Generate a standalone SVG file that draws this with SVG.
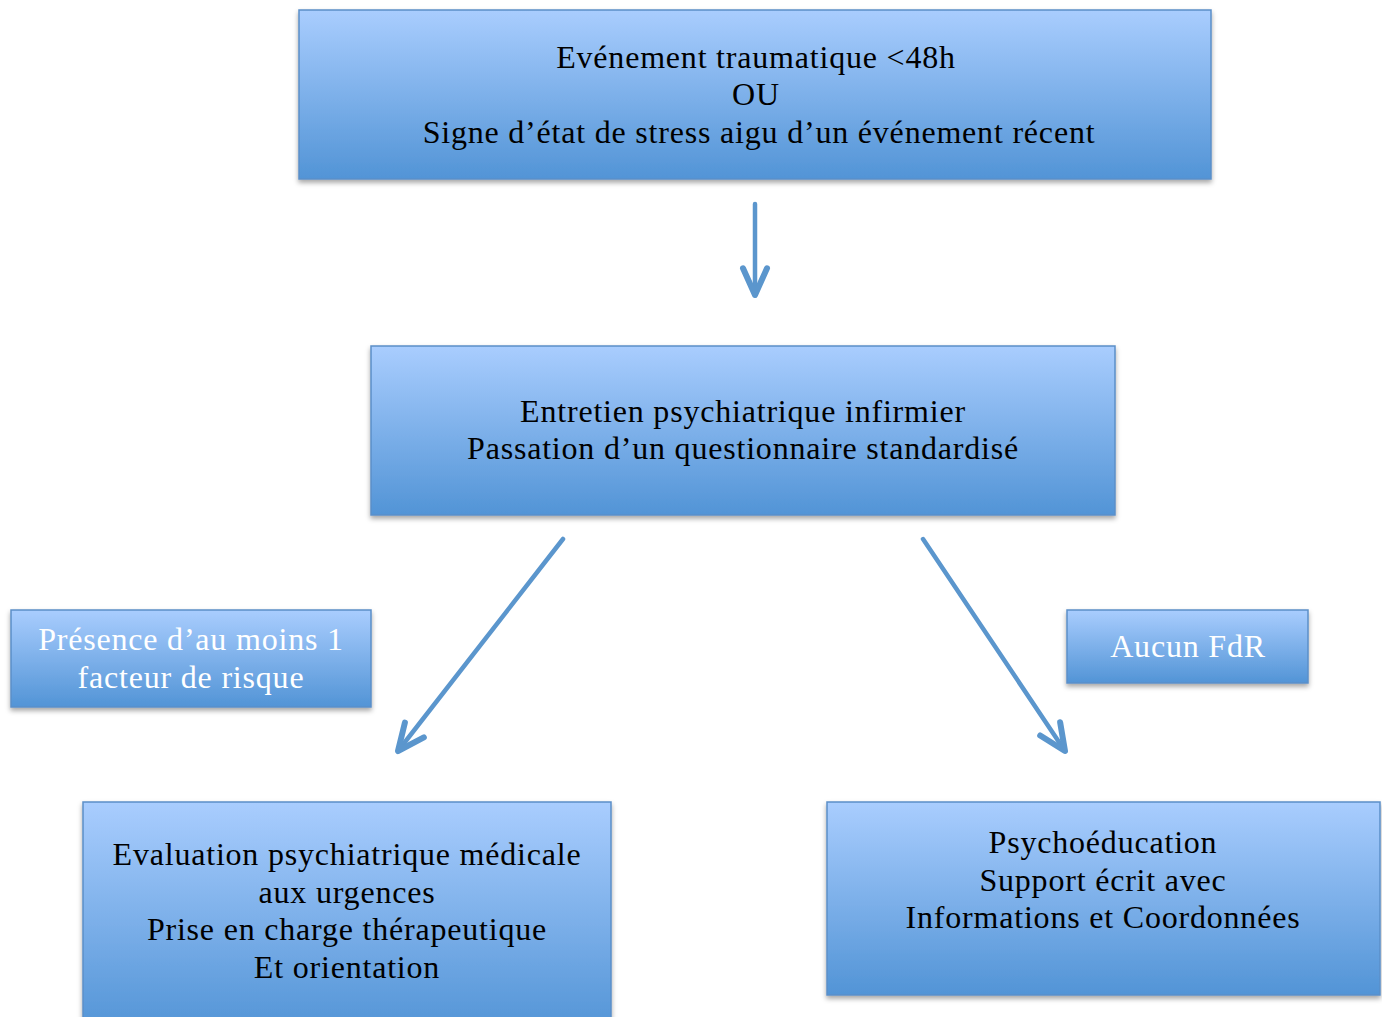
<svg xmlns="http://www.w3.org/2000/svg" width="1382" height="1017" viewBox="0 0 1382 1017">
<defs>
<linearGradient id="g" x1="0" y1="0" x2="0" y2="1">
<stop offset="0" stop-color="#a9cdfe"/>
<stop offset="1" stop-color="#5294d6"/>
</linearGradient>
<filter id="sh" x="-5%" y="-5%" width="110%" height="120%">
<feDropShadow dx="0" dy="3" stdDeviation="2.5" flood-color="#000" flood-opacity="0.35"/>
</filter>
<marker id="ah" markerUnits="userSpaceOnUse" markerWidth="40" markerHeight="40" viewBox="-25 -15 30 30" refX="0" refY="0" orient="auto">
<path d="M-20,-9 L0,0 L-20,9" fill="none" stroke="#5b96cd" stroke-width="4.5" stroke-linecap="round" stroke-linejoin="round"/>
</marker>
</defs>
<style>
.box{fill:url(#g);stroke:#5b8fc8;stroke-width:1.5;filter:url(#sh)}
.t{font-family:"Liberation Serif",serif;font-size:32px;letter-spacing:0.8px;text-anchor:middle;fill:#000}
.w{fill:#fff}
.c{fill:none;stroke:#5b96cd;stroke-width:4.5;stroke-linecap:round;marker-end:url(#ah)}
</style>
<rect width="1382" height="1017" fill="#fff"/>
<g id="connectors">
<line class="c" x1="755" y1="204" x2="755" y2="295"/>
<line class="c" x1="563" y1="539" x2="398" y2="751"/>
<line class="c" x1="923" y1="539" x2="1065" y2="751"/>
</g>
<g id="n1">
<rect class="box" x="299" y="10" width="912" height="169"/>
<text class="t" x="756" y="68">Evénement traumatique &lt;48h</text>
<text class="t" x="756" y="105">OU</text>
<text class="t" x="759" y="143">Signe d’état de stress aigu d’un événement récent</text>
</g>
<g id="n2">
<rect class="box" x="371" y="346" width="744" height="169"/>
<text class="t" x="743" y="422">Entretien psychiatrique infirmier</text>
<text class="t" x="743" y="459">Passation d’un questionnaire standardisé</text>
</g>
<g id="n3">
<rect class="box" x="11" y="610" width="360" height="97"/>
<text class="t w" x="191" y="650">Présence d’au moins 1</text>
<text class="t w" x="191" y="688">facteur de risque</text>
</g>
<g id="n4">
<rect class="box" x="1067" y="610" width="241" height="73"/>
<text class="t w" x="1188" y="657">Aucun FdR</text>
</g>
<g id="n5">
<rect class="box" x="83" y="802" width="528" height="230"/>
<text class="t" x="347" y="865">Evaluation psychiatrique médicale</text>
<text class="t" x="347" y="903">aux urgences</text>
<text class="t" x="347" y="940">Prise en charge thérapeutique</text>
<text class="t" x="347" y="978">Et orientation</text>
</g>
<g id="n6">
<rect class="box" x="827" y="802" width="553" height="193"/>
<text class="t" x="1103" y="853">Psychoéducation</text>
<text class="t" x="1103" y="891">Support écrit avec</text>
<text class="t" x="1103" y="928">Informations et Coordonnées</text>
</g>
</svg>
